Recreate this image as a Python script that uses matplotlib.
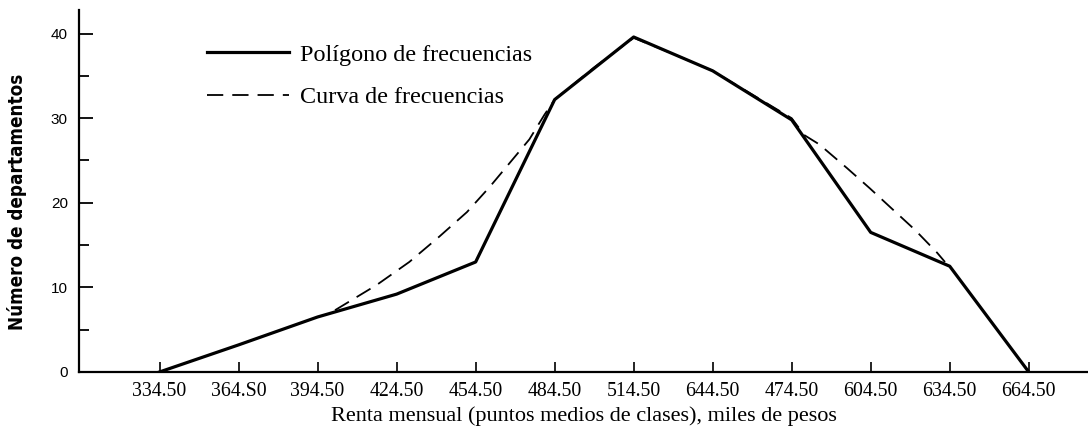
import matplotlib
matplotlib.use('Agg')
import matplotlib.pyplot as plt
from matplotlib.ticker import MultipleLocator

# class midpoints (as printed in the source, in this order)
tick_labels = ['334.50', '364.S0', '394.50', '424.50', '454.50', '484.50',
               '514.50', '644.50', '474.50', '604.50', '634.50', '664.50']
tick_pos = list(range(1, 13))

# polygon of frequencies
poly_y = [0, 3.2, 6.5, 9.2, 13.0, 32.2, 39.6, 35.6, 29.8, 16.5, 12.5, 0]

# smoothed frequency curve
curve_x = [3.22, 3.75, 4.16, 4.54, 4.89, 5.18, 5.43, 5.68, 5.87, 6.0, 6.5, 7.0,
           7.5, 8.0, 8.5, 9.0, 9.16, 9.35, 9.70, 9.99, 10.28, 10.56, 10.84, 10.94]
curve_y = [7.3, 10.3, 13.0, 16.0, 18.9, 21.9, 24.7, 27.5, 30.4, 32.2, 36.0, 39.5,
           37.6, 35.6, 32.8, 30.0, 28.0, 26.9, 24.1, 21.7, 19.2, 16.8, 14.1, 13.0]

serif = 'Liberation Serif'
sans = 'Liberation Sans'

fig = plt.figure(figsize=(10.88, 4.32), dpi=100)
ax = fig.add_axes([0.0726, 0.139, 0.9274, 0.838])

ax.plot(curve_x, curve_y, color='black', linewidth=1.3, linestyle=(0, (9, 5)),
        label='Curva de frecuencias')
ax.plot(tick_pos, poly_y, color='black', linewidth=2.3, solid_joinstyle='round',
        label='Polígono de frecuencias')

ax.set_xlim(-0.02, 12.75)
ax.set_ylim(0, 42.8)

for s in ['top', 'right']:
    ax.spines[s].set_visible(False)
ax.spines['left'].set_linewidth(1.6)
ax.spines['bottom'].set_linewidth(1.6)

ax.set_xticks(tick_pos)
ax.set_xticklabels(tick_labels, fontfamily=serif, fontsize=14.3)
ax.tick_params(axis='x', direction='in', length=7, width=1.2, pad=7)

ax.yaxis.set_major_locator(MultipleLocator(10))
ax.yaxis.set_minor_locator(MultipleLocator(5))
ax.tick_params(axis='y', which='major', direction='in', length=10, width=1.3, pad=8,
               labelsize=11)
ax.tick_params(axis='y', which='minor', direction='in', length=7, width=1.3)
for lab in ax.get_yticklabels():
    lab.set_fontfamily(sans)

ax.set_xlabel('Renta mensual (puntos medios de clases), miles de pesos',
              fontfamily=serif, fontsize=16, labelpad=4)
ax.set_ylabel('Número de departamentos', fontfamily='DejaVu Sans', fontweight='bold',
              fontstretch='condensed', fontsize=13.5)
ax.yaxis.set_label_coords(-0.052, 0.47)

h, l = ax.get_legend_handles_labels()
ax.legend(h[::-1], l[::-1], loc='upper left', bbox_to_anchor=(0.105, 0.967),
          frameon=False, handlelength=3.4, handletextpad=0.45, labelspacing=0.85,
          prop={'family': serif, 'size': 17.4})

fig.savefig('out.png', dpi=100)
